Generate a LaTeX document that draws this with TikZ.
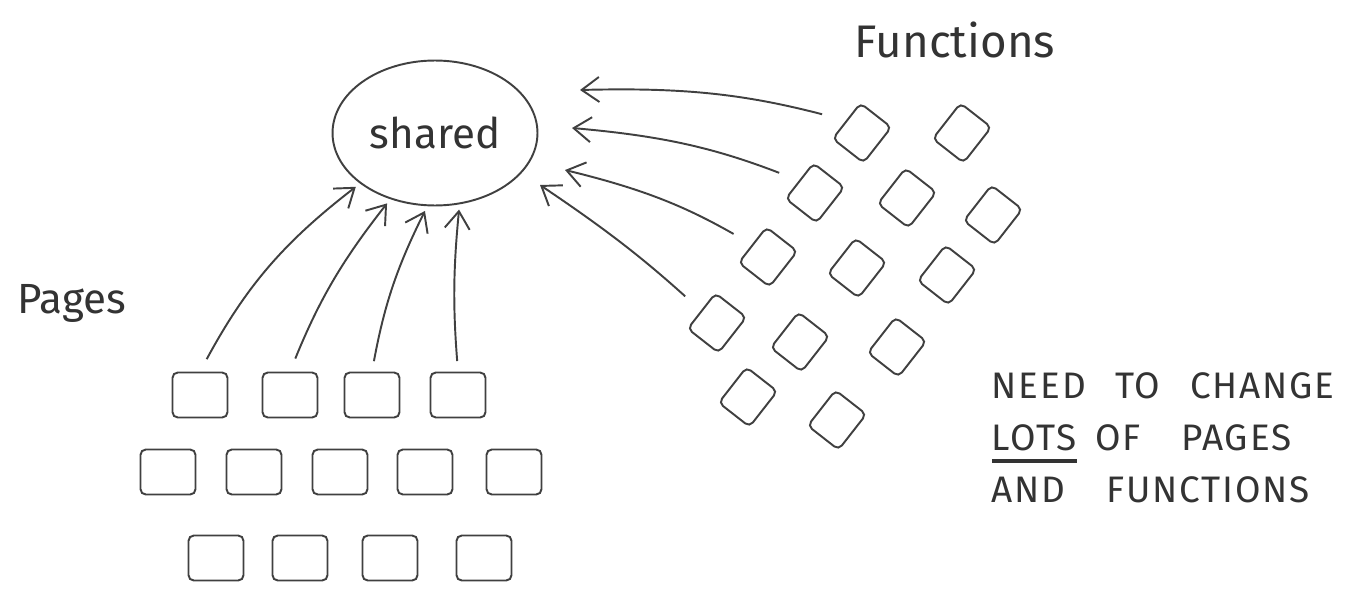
\documentclass[tikz,border=0pt]{standalone}
\usepackage{fontspec}
\setmainfont{Fira Sans}
\usetikzlibrary{arrows.meta}
\usetikzlibrary{shapes.geometric}
\newcommand{\thickul}[1]{\setbox0\hbox{#1}\rlap{\rule[-7pt]{\wd0}{2pt}}\box0}

\begin{document}
\begin{tikzpicture}[x=0.02cm, y=-0.02cm, line width=1.1pt]
	\tikzstyle{page}=[draw=black!75, rounded corners=3pt, minimum width=1.1cm,
	                  minimum height=0.9cm, inner sep=0pt];
	\tikzstyle{func}=[draw=black!75, rounded corners=3pt, minimum width=0.78cm,
	                  minimum height=0.9cm, inner sep=0pt, rotate=-38];
	\tikzstyle{link}=[-{Straight Barb[length=3.5mm, width=5mm]}, draw=black!75];
	\tikzstyle{hand}=[font=\fontsize{24}{28}\selectfont, text=black!80];
	\useasboundingbox (0,0) rectangle (1361,588);

	\node[ellipse, draw=black!75, minimum width=4.1cm, minimum height=2.9cm,
	      hand] (shared) at (435,133) {shared};
	\node[hand, font=\fontsize{26}{30}\selectfont] (functions) at (955,40) {Functions};
	\node[hand] (pages) at (72,303) {Pages};

	% pages
	\foreach \n/\x/\y in {1/200/395, 2/290/395, 3/372/395, 4/458/395,
	                      5/168/472, 6/254/472, 7/340/472, 8/425/472, 9/514/472,
	                      10/216/558, 11/300/558, 12/390/558, 13/484/558}
	{\node[page] (p\n) at (\x,\y) {};}

	% functions
	\foreach \n/\x/\y in {1/862/133, 2/962/133,
	                      3/815/193, 4/907/198, 5/993/215,
	                      6/768/257, 7/857/268, 8/947/275,
	                      9/717/323, 10/800/342, 11/897/347,
	                      12/748/397, 13/837/420}
	{\node[func] (f\n) at (\x,\y) {};}

	\coordinate (t1) at (580,90);
	\coordinate (t2) at (572,128);
	\coordinate (t3) at (565,170);
	\coordinate (t4) at (540,185);

	\draw[link, shorten <=8pt, shorten >=3pt] (p1.north) to[bend left=12] (shared.214);
	\draw[link, shorten <=8pt, shorten >=3pt] (p2.north) to[bend left=8] (shared.236);
	\draw[link, shorten <=6pt, shorten >=3pt] (p3.north) to[bend left=8] (shared.264);
	\draw[link, shorten <=6pt, shorten >=3pt] (p4.north) to[bend left=5] (shared.289);

	\draw[link, shorten <=14pt] (f1.west) to[bend right=8] (t1);
	\draw[link, shorten <=12pt] (f3.west) to[bend right=8] (t2);
	\draw[link, shorten <=12pt] (f6.west) to[bend right=8] (t3);
	\draw[link, shorten <=12pt] (f9.west) to[bend right=4] (t4);

	\node[hand, font=\fontsize{21}{29.5}\selectfont\addfontfeatures{LetterSpace=5},
	      align=left, anchor=north west] (note) at (985,366)
	  {NEED\hspace{0.8em}TO\hspace{0.8em}CHANGE\\
	   \thickul{LOTS}\hspace{0.5em}OF\hspace{1.1em}PAGES\\
	   AND\hspace{1.1em}FUNCTIONS};
\end{tikzpicture}
\end{document}
